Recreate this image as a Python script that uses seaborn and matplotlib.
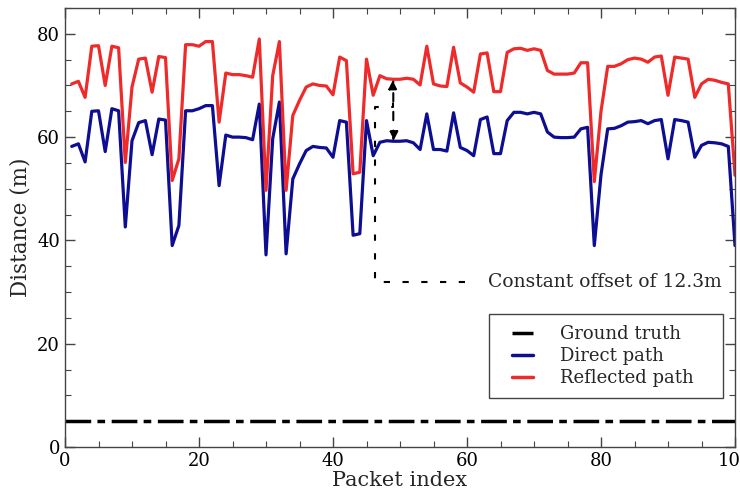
import matplotlib
matplotlib.use("Agg")
import matplotlib.pyplot as plt
from matplotlib.ticker import MultipleLocator
import numpy as np
import pandas as pd
import seaborn as sns

# Distance estimates per received packet
packet_index = list(range(1, 101))
direct_path = [
    58.2, 58.7, 55.2, 65.0, 65.1, 57.2, 65.5, 65.1, 42.6, 59.3,
    62.8, 63.2, 56.6, 63.5, 63.3, 39.0, 42.9, 65.1, 65.1, 65.5,
    66.1, 66.1, 50.6, 60.4, 60.0, 60.0, 59.9, 59.5, 66.4, 37.2,
    59.7, 66.8, 37.4, 51.9, 54.8, 57.4, 58.2, 58.0, 57.9, 56.1,
    63.2, 62.9, 41.0, 41.3, 63.2, 56.4, 59.0, 59.3, 59.2, 59.2,
    59.3, 58.9, 57.6, 64.5, 57.6, 57.6, 57.3, 64.7, 58.0, 57.4,
    56.4, 63.4, 63.9, 56.8, 56.8, 63.2, 64.8, 64.8, 64.5, 64.8,
    64.5, 61.0, 60.0, 59.9, 59.9, 60.0, 61.6, 61.9, 39.0, 52.7,
    61.6, 61.7, 62.2, 62.9, 63.0, 63.2, 62.6, 63.2, 63.4, 55.8,
    63.4, 63.2, 62.9, 56.1, 58.4, 59.0, 58.9, 58.7, 58.2, 39.0,
]
reflected_path = [
    70.3, 70.8, 67.7, 77.6, 77.7, 70.0, 77.6, 77.3, 55.1, 69.7,
    75.1, 75.3, 68.7, 75.6, 75.4, 51.6, 55.8, 77.9, 77.9, 77.6,
    78.5, 78.5, 62.9, 72.4, 72.1, 72.1, 71.9, 71.6, 79.0, 49.7,
    71.9, 78.5, 49.7, 64.2, 67.1, 69.7, 70.3, 70.0, 69.9, 68.2,
    75.5, 74.8, 52.9, 53.2, 75.1, 68.1, 71.9, 71.3, 71.2, 71.2,
    71.4, 71.2, 70.1, 77.6, 70.3, 69.9, 69.8, 77.4, 70.5, 69.7,
    68.7, 76.1, 76.3, 68.8, 68.8, 76.4, 77.1, 77.2, 76.8, 77.1,
    76.8, 72.9, 72.2, 72.2, 72.2, 72.4, 74.4, 74.4, 51.4, 65.0,
    73.7, 73.7, 74.2, 75.0, 75.3, 75.1, 74.5, 75.5, 75.7, 68.1,
    75.5, 75.3, 75.1, 67.7, 70.3, 71.2, 71.0, 70.6, 70.3, 52.6,
]
ground_truth = 5.0
series_labels = ["Ground truth", "Direct path", "Reflected path"]
offset_text = "Constant offset of 12.3m"
offset_packet = 49

df = pd.DataFrame({
    "Packet index": packet_index,
    "Direct path": direct_path,
    "Reflected path": reflected_path,
})

sns.set_style("ticks")
plt.rcParams["font.family"] = ["DejaVu Serif"]
plt.rcParams.update({
    "axes.edgecolor": "#444444",
    "axes.linewidth": 1.0,
    "xtick.direction": "in",
    "ytick.direction": "in",
    "xtick.top": True,
    "ytick.right": True,
    "xtick.color": "#444444",
    "ytick.color": "#444444",
    "xtick.labelcolor": "black",
    "ytick.labelcolor": "black",
})

fig = plt.figure(figsize=(7.4, 4.91), dpi=100)
ax = fig.add_axes([65 / 740, 44 / 491, 670 / 740, 439 / 491])

ax.axhline(ground_truth, color="black", lw=2.5,
           ls=(0, (7.4, 1.8, 2.2, 1.9)), label=series_labels[0])
sns.lineplot(data=df, x="Packet index", y="Direct path", ax=ax,
             color="#0e0e92", lw=2.3, label=series_labels[1])
sns.lineplot(data=df, x="Packet index", y="Reflected path", ax=ax,
             color="#ee2a2a", lw=2.3, label=series_labels[2])

ax.set_xlim(0, 100)
ax.set_ylim(0, 85)
ax.xaxis.set_major_locator(MultipleLocator(20))
ax.xaxis.set_minor_locator(MultipleLocator(5))
ax.yaxis.set_major_locator(MultipleLocator(20))
ax.yaxis.set_minor_locator(MultipleLocator(5))
ax.tick_params(which="major", length=7, width=1, labelsize=13)
ax.tick_params(which="minor", length=4, width=0.8)
ax.set_xlabel("Packet index", fontsize=15, labelpad=0.5)
ax.set_ylabel("Distance (m)", fontsize=15.5)

# Offset between the two paths
k = packet_index.index(offset_packet)
lo, hi = direct_path[k], reflected_path[k]
ax.annotate("", xy=(offset_packet, hi), xytext=(offset_packet, lo),
            arrowprops=dict(arrowstyle="<|-|>", color="black", lw=1.5,
                            ls=(0, (4, 5)), shrinkA=0, shrinkB=0,
                            mutation_scale=14))
ax.plot([59.7, 46.3, 46.3, offset_packet, offset_packet],
        [32.0, 32.0, 65.8, 65.8, 67.8],
        color="black", lw=1.5, ls=(0, (3, 6)))
ax.text(63.1, 32.0, offset_text, ha="left", va="center", fontsize=13.5)

handles, labels = ax.get_legend_handles_labels()
leg = ax.legend(handles, labels, loc="lower left",
                bbox_to_anchor=(0.633, 0.112, 0.349, 0.2), mode="expand",
                borderaxespad=0, fontsize=13, frameon=True, fancybox=False,
                framealpha=1, edgecolor="#444444", borderpad=0.6,
                labelspacing=0.22, handlelength=1.84, handletextpad=1.5)
leg.get_frame().set_linewidth(1.0)
for line in leg.get_lines():
    xd = np.asarray(line.get_xdata(), dtype=float)
    line.set_xdata(np.linspace(xd[0] + 8.8, xd[-1], len(xd)))
    line.set_linewidth(2.5)

fig.savefig("out.png", dpi=100)
